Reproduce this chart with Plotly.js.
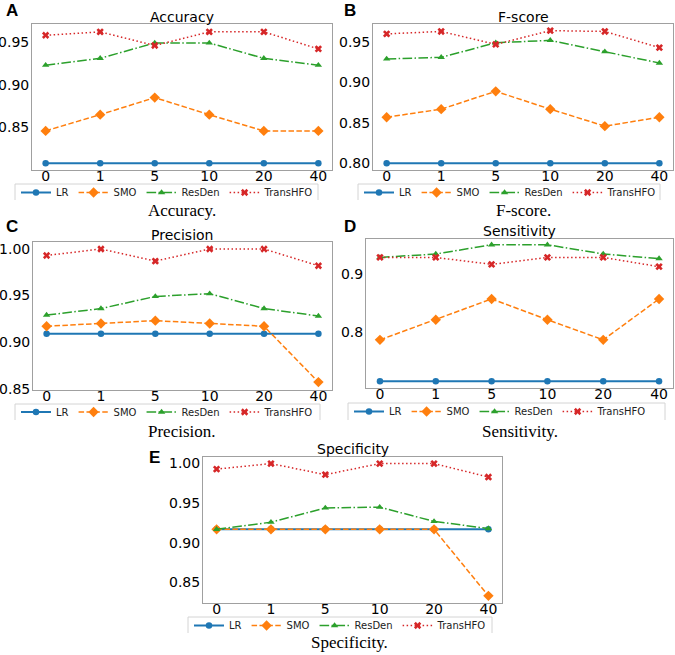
<!DOCTYPE html>
<html>
<head>
<meta charset="utf-8">
<script src="https://cdn.plot.ly/plotly-3.0.1.min.js"></script>
<style>html,body{margin:0;padding:0;background:#fff;}#chart{width:675px;height:655px;}</style>
</head>
<body>
<div id="chart"></div>
<script>
// ---------- data ----------
const categories = ['0', '1', '5', '10', '20', '40'];
const seriesNames = ['LR', 'SMO', 'ResDen', 'TransHFO'];

const accLR      = [0.808, 0.808, 0.808, 0.808, 0.808, 0.808];
const accSMO     = [0.846, 0.865, 0.885, 0.865, 0.846, 0.846];
const accResDen  = [0.923, 0.931, 0.949, 0.949, 0.931, 0.923];
const accTrans   = [0.958, 0.962, 0.946, 0.962, 0.962, 0.942];

const fLR        = [0.800, 0.800, 0.800, 0.800, 0.800, 0.800];
const fSMO       = [0.857, 0.867, 0.889, 0.867, 0.846, 0.857];
const fResDen    = [0.929, 0.931, 0.949, 0.952, 0.938, 0.924];
const fTrans     = [0.960, 0.963, 0.947, 0.964, 0.963, 0.943];

const pLR        = [0.909, 0.909, 0.909, 0.909, 0.909, 0.909];
const pSMO       = [0.917, 0.920, 0.923, 0.920, 0.917, 0.857];
const pResDen    = [0.929, 0.936, 0.949, 0.952, 0.936, 0.928];
const pTrans     = [0.993, 1.000, 0.987, 1.000, 1.000, 0.982];

const sLR        = [0.714, 0.714, 0.714, 0.714, 0.714, 0.714];
const sSMO       = [0.786, 0.821, 0.857, 0.821, 0.786, 0.857];
const sResDen    = [0.929, 0.935, 0.951, 0.951, 0.935, 0.927];
const sTrans     = [0.929, 0.929, 0.917, 0.929, 0.929, 0.913];

const spLR       = [0.917, 0.917, 0.917, 0.917, 0.917, 0.917];
const spSMO      = [0.917, 0.917, 0.917, 0.917, 0.917, 0.833];
const spResDen   = [0.917, 0.926, 0.944, 0.945, 0.927, 0.918];
const spTrans    = [0.993, 1.000, 0.986, 1.000, 1.000, 0.983];

const panelTitles = ['Accuracy', 'F-score', 'Precision', 'Sensitivity', 'Specificity'];
const panelCaptions = ['Accuracy.', 'F-score.', 'Precision.', 'Sensitivity.', 'Specificity.'];
const panelLetters = ['A', 'B', 'C', 'D', 'E'];
const panelData = [
  [accLR, accSMO, accResDen, accTrans],
  [fLR, fSMO, fResDen, fTrans],
  [pLR, pSMO, pResDen, pTrans],
  [sLR, sSMO, sResDen, sTrans],
  [spLR, spSMO, spResDen, spTrans]
];
const yTicks = [
  [0.85, 0.90, 0.95],
  [0.80, 0.85, 0.90, 0.95],
  [0.85, 0.90, 0.95, 1.00],
  [0.8, 0.9],
  [0.85, 0.90, 0.95, 1.00]
];
const yTickFormats = ['.2f', '.2f', '.2f', '.1f', '.2f'];

// ---------- layout geometry (pixels) ----------
const W = 675, H = 655;
const px = v => v / W;
const py = v => 1 - v / H;
const boxes = [ // [left, right, top, bottom]
  [32, 332, 24, 170],
  [373, 673, 24, 170],
  [33, 332, 242, 390],
  [366, 673, 239, 388],
  [203, 502, 457, 603]
];
const yRanges = [
  [0.8002, 0.9712],
  [0.7918, 0.9722],
  [0.8485, 1.0075],
  [0.7025, 0.9610],
  [0.8240, 1.0083]
];
const legendBoxes = [ // [left, right, top, clipBottom, rowCenter]
  [15, 318, 184, 200, 192],
  [358, 660, 184, 200, 192],
  [15, 320, 404, 420, 411.5],
  [348, 665, 403, 420, 411],
  [188, 492, 617, 633, 625]
];
const captionPos = [[182, 211], [523, 211], [182, 431], [520, 431], [349, 642]];
const titlePos = [[182, 17], [523, 17], [182, 235], [519, 231], [353, 449]];
const letterPos = [[12, 11], [350, 11], [12, 227], [350, 227], [154, 457]];

const styles = [
  {color: '#1f77b4', dash: 'solid', symbol: 'circle', size: 6.5, width: 2},
  {color: '#ff7f0e', dash: '5.5px,2.4px', symbol: 'diamond', size: 8, width: 1.5},
  {color: '#2ca02c', dash: '9.6px,2.4px,1.5px,2.4px', symbol: 'triangle-up', size: 6.5, width: 1.5},
  {color: '#d62728', dash: '1.5px,2.5px', symbol: 'x', size: 6.5, width: 1.5}
];

const traces = [];
const layout = {
  width: W, height: H,
  margin: {l: 0, r: 0, t: 0, b: 0},
  paper_bgcolor: '#fff', plot_bgcolor: '#fff',
  font: {family: 'DejaVu Sans', color: '#000'},
  annotations: [], shapes: []
};

for (let k = 0; k < 5; k++) {
  const sfx = k === 0 ? '' : String(k + 1);
  const [l, r, t, b] = boxes[k];
  const legName = 'legend' + sfx;
  for (let s = 0; s < 4; s++) {
    const st = styles[s];
    traces.push({
      type: 'scatter', mode: 'lines+markers',
      x: categories, y: panelData[k][s], name: seriesNames[s],
      xaxis: 'x' + sfx, yaxis: 'y' + sfx, legend: legName,
      line: {color: st.color, width: st.width, dash: st.dash},
      marker: {color: st.color, symbol: st.symbol, size: st.size, line: {width: 0}},
      cliponaxis: false
    });
  }
  layout['xaxis' + sfx] = {
    domain: [px(l), px(r)], anchor: 'y' + sfx, type: 'category',
    range: [-0.25, 5.25], showgrid: false, zeroline: false,
    showline: true, mirror: true, linecolor: '#a0a0a0', linewidth: 1,
    ticks: '', ticklabelstandoff: -7,
    tickfont: {family: 'DejaVu Sans', size: 14, color: '#000'},
    fixedrange: true
  };
  layout['yaxis' + sfx] = {
    domain: [py(b), py(t)], anchor: 'x' + sfx,
    range: yRanges[k], tickvals: yTicks[k], tickformat: yTickFormats[k],
    showgrid: false, zeroline: false,
    showline: true, mirror: true, linecolor: '#a0a0a0', linewidth: 1,
    ticks: '', ticklabelstandoff: -1,
    tickfont: {family: 'DejaVu Sans', size: 14, color: '#000'},
    fixedrange: true
  };
  const [ll, lr, lt, lb, lc] = legendBoxes[k];
  layout[legName] = {
    orientation: 'h', x: px(ll + 1), y: py(lc - 14), xanchor: 'left', yanchor: 'top',
    bgcolor: 'rgba(0,0,0,0)', borderwidth: 0,
    font: {family: 'DejaVu Sans', size: 10, color: '#222'},
    itemclick: false, itemdoubleclick: false
  };
  layout.shapes.push({
    type: 'path', xref: 'paper', yref: 'paper',
    path: `M ${px(ll)} ${py(lb)} L ${px(ll)} ${py(lt)} L ${px(lr)} ${py(lt)} L ${px(lr)} ${py(lb)}`,
    line: {color: '#d4d4d4', width: 1}
  });
  layout.annotations.push({
    xref: 'paper', yref: 'paper', x: px(titlePos[k][0]), y: py(titlePos[k][1]),
    xanchor: 'center', yanchor: 'middle', showarrow: false,
    text: panelTitles[k], font: {family: 'DejaVu Sans', size: 14, color: '#000'}
  });
  layout.annotations.push({
    xref: 'paper', yref: 'paper', x: px(captionPos[k][0]), y: py(captionPos[k][1]),
    xanchor: 'center', yanchor: 'middle', showarrow: false,
    text: panelCaptions[k], font: {family: 'Liberation Serif', size: 17, color: '#000'}
  });
  layout.annotations.push({
    xref: 'paper', yref: 'paper', x: px(letterPos[k][0]), y: py(letterPos[k][1]),
    xanchor: 'center', yanchor: 'middle', showarrow: false,
    text: '<b>' + panelLetters[k] + '</b>', font: {family: 'Liberation Sans', size: 17, color: '#000'}
  });
}

Plotly.newPlot('chart', traces, layout, {staticPlot: true, displayModeBar: false});
</script>
</body>
</html>
